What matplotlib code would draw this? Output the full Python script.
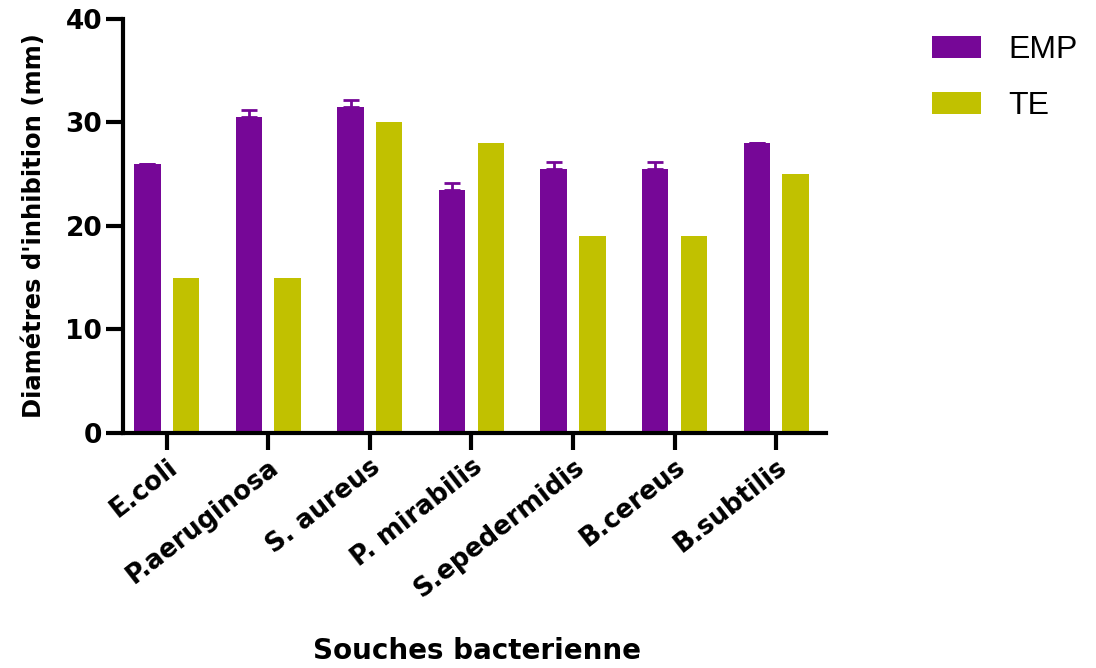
import matplotlib
matplotlib.use("Agg")
import matplotlib.pyplot as plt
import numpy as np
from matplotlib.patches import Patch

categories = ["E.coli", "P.aeruginosa", "S. aureus", "P. mirabilis", "S.epedermidis", "B.cereus", "B.subtilis"]
emp = [26, 30.5, 31.5, 23.5, 25.5, 25.5, 28]
emp_err = [0, 0.7, 0.7, 0.7, 0.7, 0.7, 0]
te = [15, 15, 30, 28, 19, 19, 25]
te_err = [0, 0, 0, 0, 0, 0, 0]
series_names = ["EMP", "TE"]
yticks = [0, 10, 20, 30, 40]

purple = "#760797"
olive = "#c1c100"

plt.rcParams['font.family'] = ['DejaVu Sans']

fig = plt.figure(figsize=(10.96, 6.68), dpi=100)
ax = fig.add_axes([0.1122, 0.3518, 0.6414, 0.6198])

x = np.arange(len(categories))
w = 0.26
off = 0.19
ax.bar(x - off, emp, width=w, color=purple, yerr=[np.zeros(len(emp)), emp_err],
       error_kw=dict(ecolor=purple, elinewidth=2, capsize=6, capthick=2))
ax.bar(x + off, te, width=w, color=olive, yerr=[np.zeros(len(te)), te_err],
       error_kw=dict(ecolor=olive, elinewidth=2, capsize=0, capthick=2))

ax.set_ylim(0, 40)
ax.set_xlim(-0.43, 6.49)
ax.set_yticks(yticks)
ax.set_yticklabels([str(v) for v in yticks], fontsize=19, fontweight='bold')
ax.set_xticks(x)
ax.set_xticklabels(categories, rotation=38, ha='right', rotation_mode='anchor',
                   fontsize=18.5, fontweight='bold')

for s in ['top', 'right']:
    ax.spines[s].set_visible(False)
for s in ['left', 'bottom']:
    ax.spines[s].set_linewidth(3)
ax.tick_params(axis='both', width=3, length=12, direction='out', pad=3)

ax.set_ylabel("Diamétres d'inhibition (mm)", fontsize=17.5, fontweight='bold', labelpad=14)
fig.text(0.435, 0.004, "Souches bacterienne", fontsize=20, fontweight='bold',
         ha='center', va='bottom')

handles = [Patch(facecolor=purple), Patch(facecolor=olive)]
fig.legend(handles, series_names, loc='upper left', bbox_to_anchor=(0.850, 0.947),
           frameon=False, prop={'family': 'Liberation Sans', 'size': 23},
           handlelength=1.55, handleheight=0.68, borderpad=0, borderaxespad=0,
           labelspacing=0.8, handletextpad=0.85)

fig.savefig("out.png", dpi=100)
